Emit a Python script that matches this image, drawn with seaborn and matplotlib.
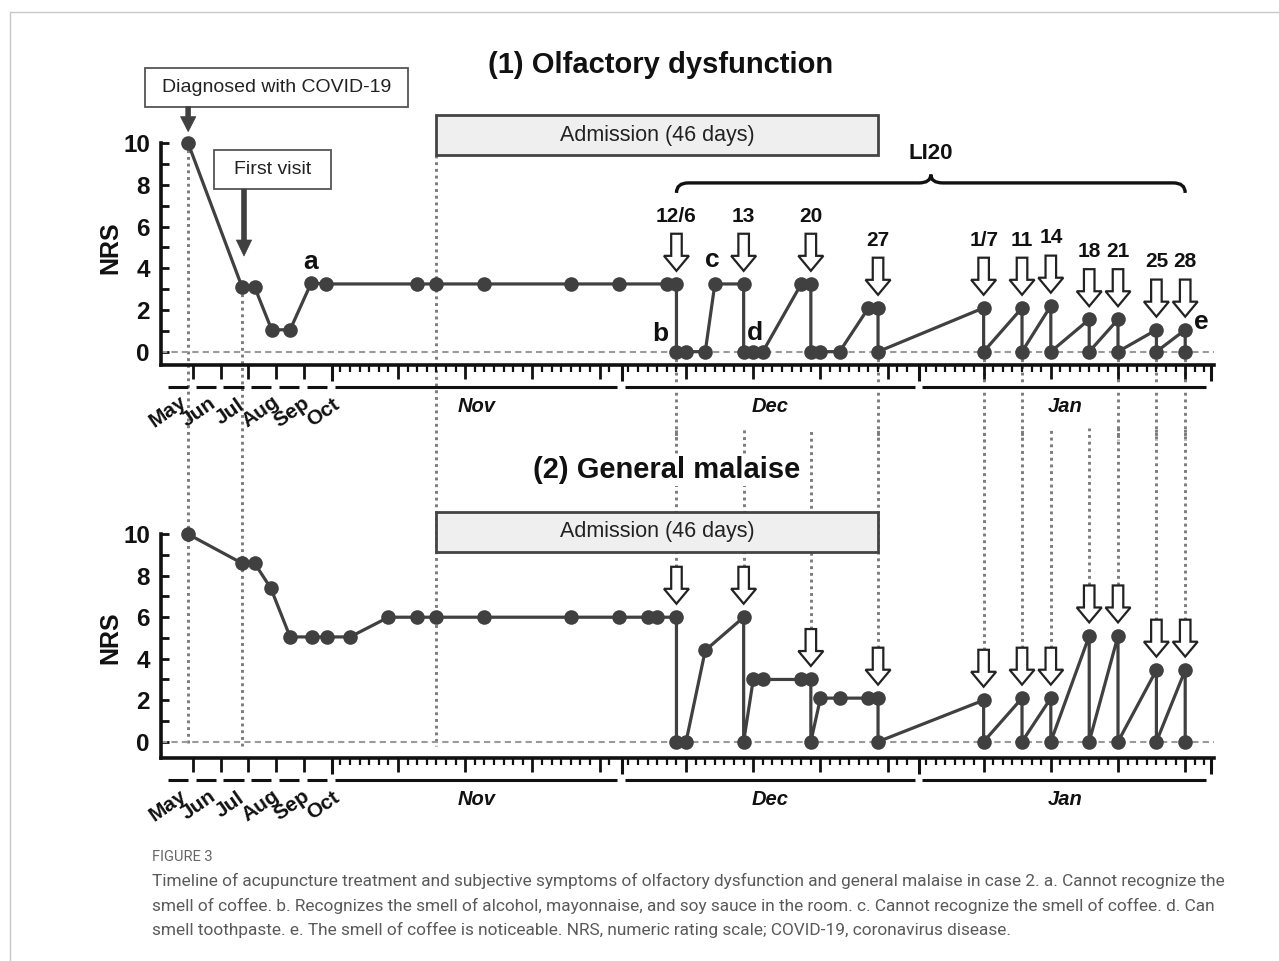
import numpy as np
import pandas as pd
import matplotlib
matplotlib.use("Agg")
import matplotlib.pyplot as plt
import matplotlib.transforms as mtransforms
from matplotlib.patches import Rectangle, FancyArrow, PathPatch
from matplotlib.path import Path
from matplotlib.lines import Line2D
import seaborn as sns

# ---- data (dates as MM-DD, NRS) ----
olf_dates = ["05-26", "07-24", "08-07", "08-26", "09-15", "10-08", "10-24",
             "11-09", "11-11", "11-16", "11-25", "11-30", "12-05", "12-06",
             "12-06", "12-07", "12-09", "12-10", "12-13", "12-13", "12-14",
             "12-15", "12-19", "12-20", "12-20", "12-21", "12-23", "12-26",
             "12-27", "12-27", "01-07", "01-07", "01-11", "01-11", "01-14",
             "01-14", "01-18", "01-18", "01-21", "01-21", "01-25", "01-25",
             "01-28", "01-28"]
olf_nrs = [10, 3.1, 3.1, 1.05, 1.05, 3.3, 3.25,
           3.25, 3.25, 3.25, 3.25, 3.25, 3.25, 3.25,
           0, 0, 0, 3.25, 3.25, 0, 0,
           0, 3.25, 3.25, 0, 0, 0, 2.1,
           2.1, 0, 2.1, 0, 2.1, 0, 2.2,
           0, 1.55, 0, 1.55, 0, 1.05, 0,
           1.05, 0]

mal_dates = ["05-26", "07-24", "08-07", "08-25", "09-15", "10-09", "10-26",
             "11-02", "11-06", "11-09", "11-11", "11-16", "11-25", "11-30",
             "12-03", "12-04", "12-06", "12-06", "12-07", "12-09", "12-13",
             "12-13", "12-14", "12-15", "12-19", "12-20", "12-20", "12-21",
             "12-23", "12-26", "12-27", "12-27", "01-07", "01-07", "01-11",
             "01-11", "01-14", "01-14", "01-18", "01-18", "01-21", "01-21",
             "01-25", "01-25", "01-28", "01-28"]
mal_nrs = [10, 8.6, 8.6, 7.4, 5.05, 5.05, 5.05,
           5.05, 6, 6, 6, 6, 6, 6,
           6, 6, 6, 0, 0, 4.4, 6,
           0, 3, 3, 3, 3, 0, 2.1,
           2.1, 2.1, 2.1, 0, 2.0, 0, 2.1,
           0, 2.1, 0, 5.1, 0, 5.1, 0,
           3.45, 0, 3.45, 0]

diagnosis_date = "05-26"
first_visit_date = "07-24"
admission_date = "11-11"
admission_days = 46
li20_dates = ["12-06", "12-13", "12-20", "12-27", "01-07", "01-11",
              "01-14", "01-18", "01-21", "01-25", "01-28"]
li20_labels = ["12/6", "13", "20", "27", "1/7", "11", "14", "18", "21", "25", "28"]
top_line_dates = ["12-06", "12-27", "01-07", "01-11", "01-21", "01-25", "01-28"]
early_months = ["May", "Jun", "Jul", "Aug", "Sep", "Oct"]
late_months = ["Nov", "Dec", "Jan"]
caption_head = "FIGURE 3"
caption_lines = [
    "Timeline of acupuncture treatment and subjective symptoms of olfactory dysfunction and general malaise in case 2. a. Cannot recognize the",
    "smell of coffee. b. Recognizes the smell of alcohol, mayonnaise, and soy sauce in the room. c. Cannot recognize the smell of coffee. d. Can",
    "smell toothpaste. e. The smell of coffee is noticeable. NRS, numeric rating scale; COVID-19, coronavirus disease.",
]

MONTH_DAYS = {5: 31, 6: 30, 7: 31, 8: 31, 9: 30, 10: 31, 11: 30, 12: 31, 1: 31}
EARLY_W = 2.9      # compressed width of one month before November
EARLY_0 = -18.3


def pos(date):
    m, d = map(int, date.split("-"))
    if 5 <= m <= 10:
        return EARLY_0 + EARLY_W * (m - 5) + EARLY_W * d / MONTH_DAYS[m]
    return {11: 0, 12: 30, 1: 61}[m] + d - 1


INK = "#404040"
AX = "#111111"
DOT = "#7c7c7c"

sns.set_theme(style="white")
plt.rcParams["font.family"] = ["Liberation Sans", "DejaVu Sans"]

fig = plt.figure(figsize=(12.79, 9.61), dpi=100)
W, H = 1279, 961
ax1 = fig.add_axes([161 / W, 1 - 365 / H, 1053 / W, 335 / H])
ax2 = fig.add_axes([161 / W, 1 - 758.3 / H, 1053 / W, 313.3 / H])

olf = pd.DataFrame({"date": olf_dates, "nrs": olf_nrs})
olf["pos"] = olf["date"].map(pos)
mal = pd.DataFrame({"date": mal_dates, "nrs": mal_nrs})
mal["pos"] = mal["date"].map(pos)

early_edges = [EARLY_0 + EARLY_W * i for i in range(7)]
long_edges = [early_edges[-1], 29.3, 60.3, 90.7]
month_edges = early_edges + long_edges[1:]
weekly = [pos(f"{m:02d}-{d:02d}") for m in (11, 12, 1) for d in (7, 14, 21, 28)]
daily = [d for d in range(0, 91) if all(abs(d - b) > 0.5 for b in long_edges)]


def panel(ax, df, ylow, yhigh):
    ax.set_facecolor("none")
    sns.lineplot(data=df, x="pos", y="nrs", sort=False, estimator=None, ax=ax,
                 color=INK, linewidth=2.3, marker="o", markersize=10.5,
                 markeredgewidth=0, markeredgecolor=INK, zorder=5, clip_on=False)
    ax.set(xlabel="", ylabel="", xlim=(-18.7, 91), ylim=(ylow, yhigh))
    ax.axhline(0, color="#9a9a9a", lw=1.5, ls=(0, (3, 2)), zorder=1)
    for s in ("top", "right"):
        ax.spines[s].set_visible(False)
    for s in ("left", "bottom"):
        ax.spines[s].set_linewidth(2.6)
        ax.spines[s].set_color(AX)
    ax.spines["left"].set_bounds(ylow, 10)
    ax.set_yticks(range(0, 11, 2), labels=[str(v) for v in range(0, 11, 2)],
                  fontsize=17.5, fontweight="bold")
    ax.set_yticks(range(1, 11, 2), minor=True)
    ax.tick_params(axis="y", which="both", direction="in", length=6, width=2,
                   color=AX, pad=8, left=True, labelcolor=AX)
    ax.text(-24.0, 5, "NRS", rotation=90, ha="center", va="center",
            fontsize=18, fontweight="bold", color=AX, clip_on=False)

    # time axis
    ax.set_xticks(early_edges[1:-1] + weekly, labels=[])
    ax.set_xticks(daily, minor=True)
    ax.tick_params(axis="x", which="major", direction="out", length=10, width=2,
                   color=AX, bottom=True)
    ax.tick_params(axis="x", which="minor", direction="out", length=5, width=1.6,
                   color=AX, bottom=True)
    hpx = ax.get_position().height * H
    tr = mtransforms.blended_transform_factory(ax.transData, ax.transAxes)
    for b in long_edges:
        ax.plot([b, b], [0, -16 / hpx], transform=tr, color=AX, lw=2.2,
                clip_on=False, solid_capstyle="butt")
    for a, b in zip(month_edges[:-1], month_edges[1:]):
        ax.plot([a + 0.3, b - 0.5], [-22 / hpx] * 2, transform=tr, color=AX,
                lw=2.2, clip_on=False, solid_capstyle="butt")
    for i, name in enumerate(early_months):
        xc = early_edges[i] + EARLY_W / 2 + 0.33 * i - 1.12
        ax.text(xc, -47 / hpx, name, transform=tr, rotation=35, ha="center",
                va="center", fontsize=15, fontweight="bold", color=AX)
    for i, name in enumerate(late_months):
        xc = (long_edges[i] + long_edges[i + 1]) / 2
        ax.text(xc, -41 / hpx, name, transform=tr, ha="center", va="center",
                fontsize=14.5, fontweight="bold", style="italic", color=AX)


def hollow_arrow(ax, x, tip, length=1.78):
    ax.add_patch(FancyArrow(x, tip + length, 0, -length, width=1.1,
                            head_width=2.6, head_length=0.72,
                            length_includes_head=True, fc="white", ec="#222222",
                            lw=1.6, zorder=7, clip_on=False))


def solid_arrow(ax, x, y0, y1, hl):
    ax.add_patch(FancyArrow(x, y0, 0, y1 - y0, width=0.5, head_width=1.6,
                            head_length=hl, length_includes_head=True,
                            fc=INK, ec=INK, lw=0.5, zorder=7, clip_on=False))


def box(ax, x0, x1, y0, y1, text, fc, ec, lw, fs):
    ax.add_patch(Rectangle((x0, y0), x1 - x0, y1 - y0, fc=fc, ec=ec, lw=lw,
                           zorder=6, clip_on=False))
    ax.text((x0 + x1) / 2, (y0 + y1) / 2, text, ha="center", va="center",
            fontsize=fs, color="#222222", zorder=8)


panel(ax1, olf, -0.64, 15.44)
panel(ax2, mal, -0.8, 14.3)

adm0 = pos(admission_date)
adm1 = adm0 + admission_days
dot_kw = dict(color=DOT, lw=2.1, ls=(0, (1, 1.3)), zorder=0.5, clip_on=False)

# long dotted guides crossing both panels
x_diag = pos(diagnosis_date)
x_first = pos(first_visit_date)
ax1.plot([x_diag, x_diag], [10, -18.93], **dot_kw)
ax1.plot([x_first, x_first], [olf.loc[olf.date == first_visit_date, "nrs"].max(), -18.93], **dot_kw)
ax1.plot([adm0, adm0], [9.44, -18.93], **dot_kw)

# ---- top panel annotations ----
ax1.text(33.3, 13.77, "(1) Olfactory dysfunction", ha="center", va="center",
         fontsize=21, fontweight="bold", color=AX)
box(ax1, -20.4, 7.0, 11.76, 13.6, "Diagnosed with COVID-19", "white", "#555555", 1.3, 14)
solid_arrow(ax1, x_diag, 11.76, 10.56, 0.72)
box(ax1, -13.16, -0.99, 7.8, 9.68, "First visit", "white", "#555555", 1.3, 14)
solid_arrow(ax1, x_first + 0.2, 7.8, 4.59, 0.77)
box(ax1, adm0, adm1, 9.44, 11.36, "Admission (46 days)", "#efefef", "#444444", 2, 15.5)
ax1.text(61.5, 9.52, "LI20", ha="center", va="center", fontsize=16,
         fontweight="bold", color=AX)

# curly brace over the LI20 sessions
bx0, bx1 = pos(li20_dates[0]), pos(li20_dates[-1])
bm = (bx0 + bx1) / 2
yb, ybar, ytip, r = 7.62, 8.1, 8.5, 1.25
verts = [(bx0, yb), (bx0, ybar), (bx0 + r, ybar), (bm - r, ybar), (bm, ybar),
         (bm, ytip), (bm, ybar), (bm + r, ybar), (bx1 - r, ybar), (bx1, ybar),
         (bx1, yb)]
codes = [Path.MOVETO, Path.CURVE3, Path.CURVE3, Path.LINETO, Path.CURVE3,
         Path.CURVE3, Path.CURVE3, Path.CURVE3, Path.LINETO, Path.CURVE3,
         Path.CURVE3]
ax1.add_patch(PathPatch(Path(verts, codes), fill=False, ec=AX, lw=2.4,
                        clip_on=False, zorder=6))

for d, lab in zip(li20_dates, li20_labels):
    x = pos(d)
    tip = olf.loc[olf.date == d, "nrs"].max() + 0.63
    hollow_arrow(ax1, x, tip)
    ax1.text(x, tip + 1.78 + 0.85, lab, ha="center", va="center", fontsize=15,
             fontweight="bold", color=AX)
for d in top_line_dates:
    x = pos(d)
    ax1.plot([x, x], [0, -4.24], **dot_kw)

for lab, x, y in [("a", -3.16, 4.32), ("b", 33.3, 0.85), ("c", 38.7, 4.4),
                  ("d", 43.2, 0.91), ("e", 89.7, 1.44)]:
    ax1.text(x, y, lab, ha="center", va="center", fontsize=19,
             fontweight="bold", color=AX, zorder=8)

# ---- bottom panel annotations ----
ax2.text(34.0, 13.08, "(2) General malaise", ha="center", va="center",
         fontsize=21, fontweight="bold", color=AX, zorder=9,
         bbox=dict(fc="white", ec="none", pad=1))
box(ax2, adm0, adm1, 9.16, 11.08, "Admission (46 days)", "#efefef", "#444444", 2, 15.5)
for d in li20_dates:
    x = pos(d)
    tip = mal.loc[mal.date == d, "nrs"].max() + 0.65
    hollow_arrow(ax2, x, tip)
    ax2.plot([x, x], [tip + 1.78, 15.12], **dot_kw)

# ---- frame and caption ----
fig.add_artist(Line2D([10 / W, 1], [1 - 12 / H] * 2, color="#c8c8c8", lw=1))
fig.add_artist(Line2D([10 / W] * 2, [1 - 12 / H, 0], color="#c8c8c8", lw=1))
fig.text(152 / W, 1 - 857 / H, caption_head, ha="left", va="center",
         fontsize=10.5, color="#666666", family="Roboto")
for i, line in enumerate(caption_lines):
    fig.text(152 / W, 1 - (881 + 24.5 * i) / H, line, ha="left", va="center",
             fontsize=12.4, color="#5a5a5a", family="Roboto")

fig.savefig("out.png", dpi=100)
